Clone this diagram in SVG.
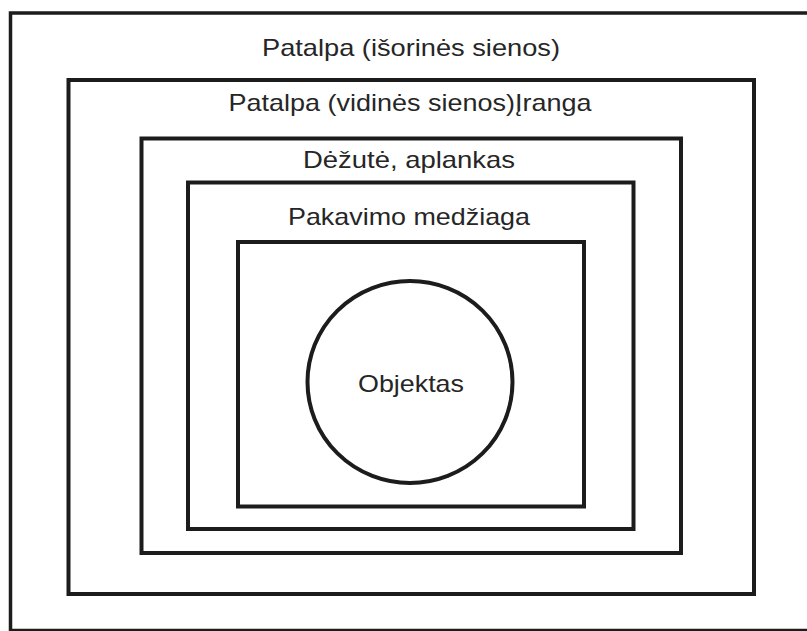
<svg xmlns="http://www.w3.org/2000/svg" width="807" height="631" viewBox="0 0 807 631">
  <style>
    .box { fill: none; stroke: #1c1c1c; stroke-width: 4; }
    .lbl { font-family: "Liberation Sans", Arial, sans-serif; font-size: 24px; fill: #262626; text-anchor: middle; }
  </style>
  <rect x="0" y="0" width="807" height="631" fill="#ffffff"/>
  <g id="patalpa-isorines">
    <rect class="box" x="10.5" y="13" width="810" height="617.5" style="stroke-width:3.5"/>
    <text class="lbl" x="411" y="56" textLength="298" lengthAdjust="spacingAndGlyphs">Patalpa (išorinės sienos)</text>
  </g>
  <g id="patalpa-vidines">
    <rect class="box" x="68.5" y="80" width="685.5" height="514"/>
    <text class="lbl" x="410" y="111" textLength="363" lengthAdjust="spacingAndGlyphs">Patalpa (vidinės sienos)Įranga</text>
  </g>
  <g id="dezute">
    <rect class="box" x="141.5" y="138.5" width="539.5" height="414.5"/>
    <text class="lbl" x="409" y="168" textLength="212" lengthAdjust="spacingAndGlyphs">Dėžutė, aplankas</text>
  </g>
  <g id="pakavimo">
    <rect class="box" x="188" y="182.5" width="445.5" height="346.5"/>
    <text class="lbl" x="409" y="225" textLength="242" lengthAdjust="spacingAndGlyphs">Pakavimo medžiaga</text>
  </g>
  <g id="vidinis">
    <rect class="box" x="238" y="242" width="346" height="264.5"/>
  </g>
  <g id="objektas">
    <ellipse class="box" cx="410" cy="382" rx="102.5" ry="101"/>
    <text class="lbl" x="411" y="392" textLength="106" lengthAdjust="spacingAndGlyphs">Objektas</text>
  </g>
  <g id="connectors"/>
</svg>
